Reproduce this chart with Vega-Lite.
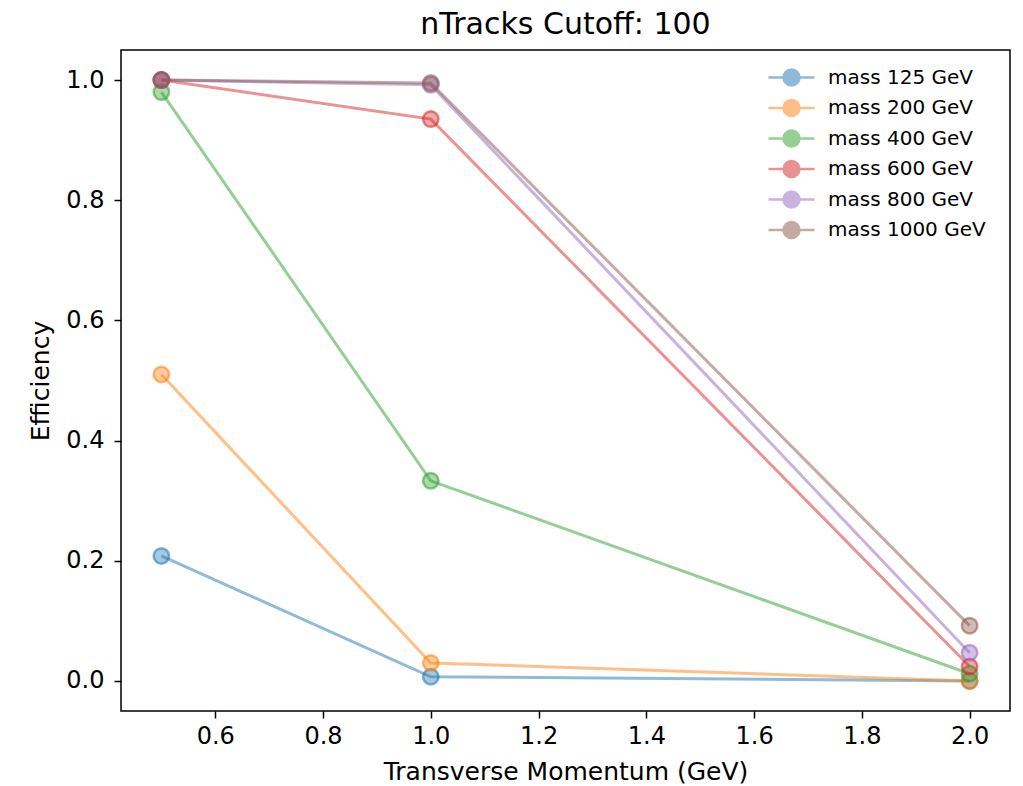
{
  "$schema": "https://vega.github.io/schema/vega-lite/v6.json",
  "width": 889,
  "height": 661,
  "autosize": {"type": "none"},
  "padding": {"left": 121, "top": 50, "right": 13, "bottom": 75},
  "background": "white",
  "config": {
    "font": "DejaVu Sans",
    "view": {"stroke": "black", "strokeWidth": 1.5},
    "axis": {"grid": false, "domain": false, "tickColor": "black", "tickSize": 7, "tickWidth": 1.5, "labelColor": "black", "labelFontSize": 24, "titleFontSize": 25, "titleFontWeight": "normal", "titleColor": "black", "labelPadding": 6}
  },
  "title": {"text": "nTracks Cutoff: 100", "fontSize": 30, "fontWeight": "normal", "color": "black", "offset": 10},
  "data": {"values": [
    {"series": "mass 125 GeV", "pt": 0.5, "eff": 0.208},
    {"series": "mass 125 GeV", "pt": 1.0, "eff": 0.007},
    {"series": "mass 125 GeV", "pt": 2.0, "eff": 0.0},
    {"series": "mass 200 GeV", "pt": 0.5, "eff": 0.51},
    {"series": "mass 200 GeV", "pt": 1.0, "eff": 0.03},
    {"series": "mass 200 GeV", "pt": 2.0, "eff": 0.0},
    {"series": "mass 400 GeV", "pt": 0.5, "eff": 0.98},
    {"series": "mass 400 GeV", "pt": 1.0, "eff": 0.333},
    {"series": "mass 400 GeV", "pt": 2.0, "eff": 0.012},
    {"series": "mass 600 GeV", "pt": 0.5, "eff": 1.0},
    {"series": "mass 600 GeV", "pt": 1.0, "eff": 0.935},
    {"series": "mass 600 GeV", "pt": 2.0, "eff": 0.024},
    {"series": "mass 800 GeV", "pt": 0.5, "eff": 1.0},
    {"series": "mass 800 GeV", "pt": 1.0, "eff": 0.992},
    {"series": "mass 800 GeV", "pt": 2.0, "eff": 0.047},
    {"series": "mass 1000 GeV", "pt": 0.5, "eff": 1.0},
    {"series": "mass 1000 GeV", "pt": 1.0, "eff": 0.995},
    {"series": "mass 1000 GeV", "pt": 2.0, "eff": 0.092}
  ]},
  "encoding": {
    "x": {"field": "pt", "type": "quantitative", "title": "Transverse Momentum (GeV)",
      "scale": {"domain": [0.425, 2.075], "nice": false, "zero": false},
      "axis": {"values": [0.6, 0.8, 1.0, 1.2, 1.4, 1.6, 1.8, 2.0], "format": ".1f", "titlePadding": 11}},
    "y": {"field": "eff", "type": "quantitative", "title": "Efficiency",
      "scale": {"domain": [-0.05, 1.05], "nice": false, "zero": false},
      "axis": {"values": [0, 0.2, 0.4, 0.6, 0.8, 1.0], "format": ".1f", "titlePadding": 12, "labelPadding": 10}},
    "color": {"field": "series", "type": "nominal",
      "sort": ["mass 125 GeV", "mass 200 GeV", "mass 400 GeV", "mass 600 GeV", "mass 800 GeV", "mass 1000 GeV"],
      "scale": {"domain": ["mass 125 GeV", "mass 200 GeV", "mass 400 GeV", "mass 600 GeV", "mass 800 GeV", "mass 1000 GeV"],
        "range": ["#1f77b4", "#ff7f0e", "#2ca02c", "#d62728", "#9467bd", "#8c564b"]},
      "legend": {"title": null, "orient": "none", "legendX": 659, "legendY": 16, "padding": 0,
        "symbolType": "M-2.3,0H2.3M0.8,0A0.8,0.8,0,1,1,-0.8,0A0.8,0.8,0,1,1,0.8,0Z",
        "symbolSize": 400, "symbolStrokeWidth": 2.5, "symbolOpacity": 0.5,
        "labelFontSize": 20, "labelColor": "black", "labelOffset": 25, "rowPadding": 3.5,
        "encode": {"symbols": {"update": {"fill": {"scale": "color", "field": "value"}, "stroke": {"scale": "color", "field": "value"}, "opacity": {"value": 0.5}}}}}}
  },
  "layer": [
    {"mark": {"type": "line", "strokeWidth": 3, "opacity": 0.5}},
    {"mark": {"type": "point", "filled": true, "size": 240, "fillOpacity": 0.4, "strokeOpacity": 0.55, "strokeWidth": 2.5},
     "encoding": {"stroke": {"field": "series", "type": "nominal", "legend": null,
       "scale": {"domain": ["mass 125 GeV", "mass 200 GeV", "mass 400 GeV", "mass 600 GeV", "mass 800 GeV", "mass 1000 GeV"],
         "range": ["#1f77b4", "#ff7f0e", "#2ca02c", "#d62728", "#9467bd", "#8c564b"]}}}}
  ]
}
